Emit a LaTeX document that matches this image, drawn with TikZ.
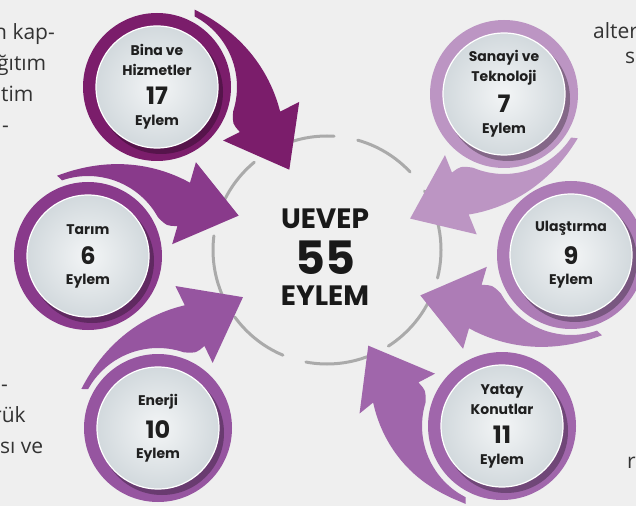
\documentclass[tikz,border=0pt]{standalone}
\usepackage{fontspec}
\setmainfont{Poppins}
\newfontfamily\pagefont{Open Sans}
\usetikzlibrary{calc}
\definecolor{bgGray}{HTML}{EFEFEF}
\definecolor{ringGray}{HTML}{AAAAAA}
\definecolor{diskIn}{HTML}{F3F5F6}
\definecolor{diskOut}{HTML}{D2D9DD}
\definecolor{binaCol}{HTML}{7B1D6B}
\definecolor{tarimCol}{HTML}{893A8B}
\definecolor{enerjiCol}{HTML}{9655A0}
\definecolor{yatayCol}{HTML}{A066AB}
\definecolor{ulasCol}{HTML}{AD7CB6}
\definecolor{sanayiCol}{HTML}{BC95C3}

\begin{document}
\begin{tikzpicture}[x=1pt, y=1pt,
            disk/.style={circle, minimum size=122pt, inner sep=0pt, shade,
                         inner color=diskIn, outer color=diskOut, draw=white, line width=1.2pt,
                         align=center, font=\fontsize{14}{20}\selectfont\bfseries, text=black!88},
            hub/.style={align=center, font=\fontsize{28}{31}\selectfont\bfseries, text=black!90},
            dashring/.style={draw=ringGray, line width=3pt, line cap=round, dash pattern=on 62pt off 24pt},
            page/.style={anchor=base west, inner sep=0pt, font=\pagefont\fontsize{21}{21}\selectfont, text=black!80},
            % #1 = outer radius where the body meets the head, #2 = how fast it widens
            pics/swoosh/.style args={#1/#2}{code={
                \path[pic actions] (0:86)
                    -- plot[domain=0.3:75.3, samples=24, smooth] ({-\x}:{86+(#1-86)*(\x/75.3)^#2})
                    -- (-70:143) -- (-96:156) -- (-103:85) -- (-92.5:94.3)
                    .. controls (-90:84) .. (-82:80)
                    -- plot[domain=-82:-2, samples=15, smooth] (\x:80) -- cycle;
            }},
        ]
            \useasboundingbox (0,0) rectangle (636,506);
            \clip (0,0) rectangle (636,506);
            \fill[bgGray] (0,0) rectangle (636,506);

            % cut-off page text at the edges
            \node[page] (l1) at (-6,466) {n kap-};
            \node[page] (l2) at (-3,435) {ğıtım};
            \node[page] (l3) at (1,404) {tim};
            \node[page] (l4) at (2,373) {-};
            \node[page] (l5) at (1,115) {-};
            \node[page] (l6) at (-7,84) {rük};
            \node[page] (l7) at (0,53) {sı ve};
            \node[page] (r1) at (593,467) {alter};
            \node[page] (r2) at (625,442) {s};
            \node[page] (r3) at (627,38) {rı};

            % centres
            \coordinate (mid)    at (327,256);
            \coordinate (bina)   at (157,419);
            \coordinate (tarim)  at (88,250);
            \coordinate (enerji) at (158,78);
            \coordinate (sanayi) at (504,412);
            \coordinate (ulas)   at (571,251);
            \coordinate (yatay)  at (502,80);

            \draw[dashring] (mid) circle (114pt);

            % rings, arrows and shadows
            \foreach \c/\col/\a/\rj/\pw in {bina/binaCol/64/125.6/2, tarim/tarimCol/111/125.6/2,
                                            enerji/enerjiCol/153/125.6/2, sanayi/sanayiCol/-31/125.6/2,
                                            ulas/ulasCol/-69/125.6/2, yatay/yatayCol/-115/131/1.6}{
                \fill[\col] (\c) circle (74pt);
                \pic[fill=\col, rotate=\a] at (\c) {swoosh=\rj/\pw};
                \fill[\col!70!black] ($(\c)+(4,-5)$) circle (62pt);
            }

            \node[hub] (hub) at (325,249) {UEVEP\\[11pt]{\fontsize{46}{46}\selectfont 55}\\EYLEM};

            \node[disk] (binaDisk)   at (bina)   {Bina ve\\Hizmetler\\[9pt]{\fontsize{24}{24}\selectfont 17}\\[1pt]Eylem};
            \node[disk] (tarimDisk)  at (tarim)  {Tarım\\[10pt]{\fontsize{24}{24}\selectfont 6}\\Eylem};
            \node[disk] (enerjiDisk) at (enerji) {Enerji\\[10pt]{\fontsize{24}{24}\selectfont 10}\\Eylem};
            \node[disk] (sanayiDisk) at (sanayi) {Sanayi ve\\Teknoloji\\[9pt]{\fontsize{24}{24}\selectfont 7}\\[1pt]Eylem};
            \node[disk] (ulasDisk)   at (ulas)   {Ulaştırma\\[10pt]{\fontsize{24}{24}\selectfont 9}\\Eylem};
            \node[disk] (yatayDisk)  at (yatay)  {Yatay\\Konutlar\\[9pt]{\fontsize{24}{24}\selectfont 11}\\[1pt]Eylem};
        \end{tikzpicture}
\end{document}
